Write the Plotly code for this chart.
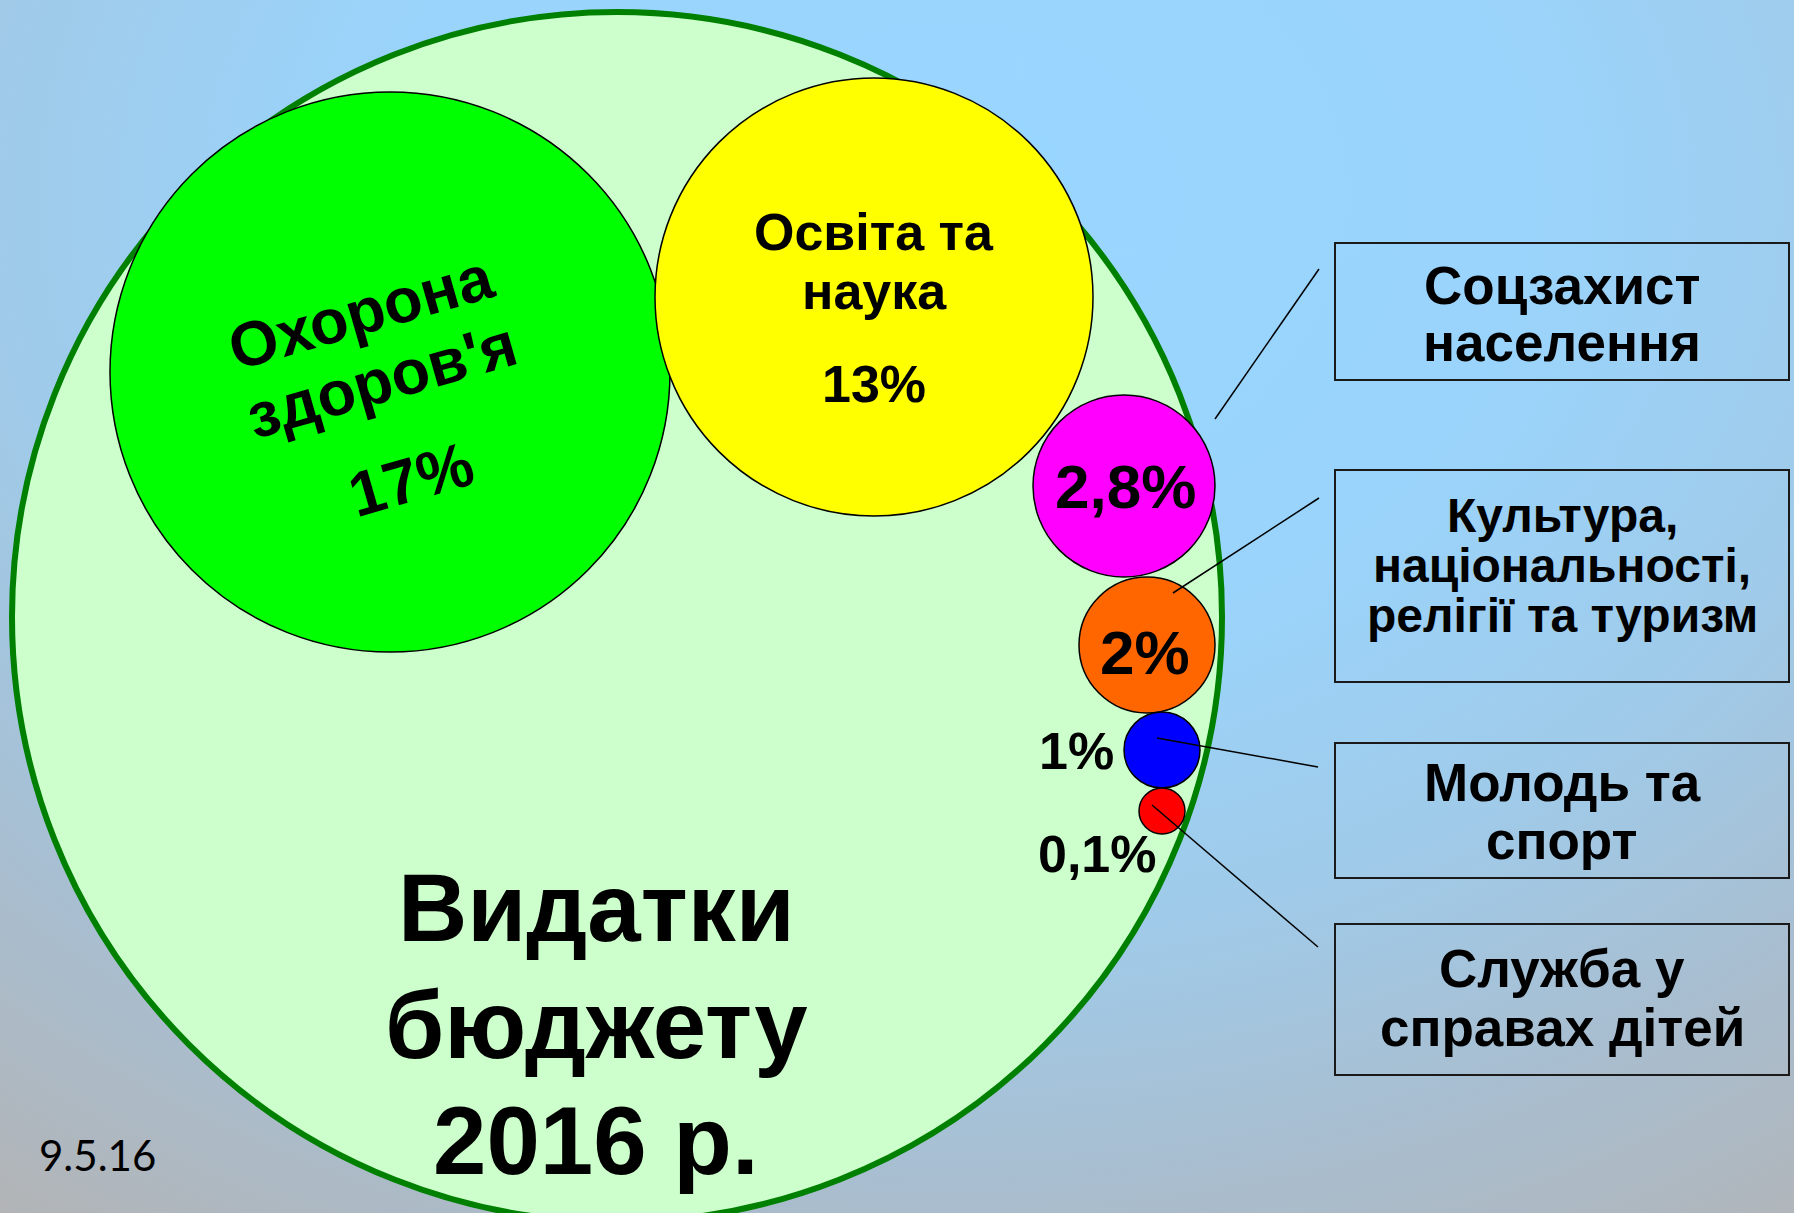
import base64
import plotly.graph_objects as go

# --- data -------------------------------------------------------------
categories = [
    "Охорона здоров'я",
    "Освіта та наука",
    "Соцзахист населення",
    "Культура, національності, релігії та туризм",
    "Молодь та спорт",
    "Служба у справах дітей",
]
shares = [17, 13, 2.8, 2, 1, 0.1]
share_labels = ["17%", "13%", "2,8%", "2%", "1%", "0,1%"]
bubble_colors = ["#00ff00", "#ffff00", "#ff00ff", "#ff6600", "#0000ff", "#ff0000"]
title_lines = ["Видатки", "бюджету", "2016 р."]
box_lines = [
    ["Соцзахист", "населення"],
    ["Культура,", "національності,", "релігії та туризм"],
    ["Молодь та", "спорт"],
    ["Служба у", "справах дітей"],
]
date_label = "9.5.16"

# --- layout (pixel space of the slide) --------------------------------
W, H = 1794, 1213
BOLD = "Liberation Sans, Arial, sans-serif"

outer = dict(cx=617, cy=617, r=605)
bubble_cx = [390, 874, 1124, 1147, 1162, 1162]
bubble_cy = [372, 297, 486, 645, 750, 811]
bubble_r = [280, 219, 91, 68, 38, 23]

boxes = [(1335, 243, 1789, 380), (1335, 470, 1789, 682),
         (1335, 743, 1789, 878), (1335, 924, 1789, 1075)]
box_text_y = [[285, 342], [515, 565, 615], [782, 840], [968, 1027]]
box_font = [53, 48, 53, 53]
# callout lines: (from circle) -> (box side)
callouts = [((1215, 419), (1319, 269)), ((1173, 593), (1319, 498)),
            ((1157, 738), (1318, 767)), ((1152, 805), (1318, 947))]

fig = go.Figure()

# background gradient as an svg image
svg = (
    f'<svg xmlns="http://www.w3.org/2000/svg" width="{W}" height="{H}" preserveAspectRatio="none">'
    '<defs><radialGradient id="g" gradientUnits="userSpaceOnUse" cx="0" cy="0" r="1" '
    'gradientTransform="translate(950,200) scale(1625,1250)">'
    '<stop offset="0" stop-color="#99d6ff"/><stop offset="0.35" stop-color="#9ad4fc"/>'
    '<stop offset="0.6" stop-color="#a0cae8"/><stop offset="0.8" stop-color="#a9bdce"/>'
    '<stop offset="1" stop-color="#b2b4b6"/></radialGradient></defs>'
    f'<rect width="{W}" height="{H}" fill="url(#g)"/></svg>'
)
fig.add_layout_image(
    source="data:image/svg+xml;base64," + base64.b64encode(svg.encode()).decode(),
    xref="paper", yref="paper", x=0, y=1, sizex=1, sizey=1,
    sizing="stretch", xanchor="left", yanchor="top", layer="below",
)

# invisible trace so the axes exist and hover works
fig.add_trace(go.Scatter(
    x=bubble_cx, y=bubble_cy, mode="markers",
    marker=dict(size=1, opacity=0),
    text=[f"{c}: {l}" for c, l in zip(categories, share_labels)],
    hoverinfo="text", showlegend=False,
))

# big circle
fig.add_shape(type="circle", xref="x", yref="y",
              x0=outer["cx"] - outer["r"], x1=outer["cx"] + outer["r"],
              y0=outer["cy"] - outer["r"], y1=outer["cy"] + outer["r"],
              fillcolor="#ccffcc", line=dict(color="#008000", width=6))

for cx, cy, r, col in zip(bubble_cx, bubble_cy, bubble_r, bubble_colors):
    fig.add_shape(type="circle", xref="x", yref="y",
                  x0=cx - r, x1=cx + r, y0=cy - r, y1=cy + r,
                  fillcolor=col, line=dict(color="black", width=1.5))

for (x0, y0), (x1, y1) in callouts:
    fig.add_shape(type="line", xref="x", yref="y", x0=x0, y0=y0, x1=x1, y1=y1,
                  line=dict(color="black", width=1.5))

for x0, y0, x1, y1 in boxes:
    fig.add_shape(type="rect", xref="x", yref="y", x0=x0, y0=y0, x1=x1, y1=y1,
                  fillcolor="rgba(0,0,0,0)", line=dict(color="#1a1a1a", width=2))


def add_text(x, y, text, size, angle=0, family=BOLD, weight="bold"):
    fig.add_annotation(x=x, y=y, xref="x", yref="y", text=text, showarrow=False,
                       xanchor="center", yanchor="middle", textangle=angle,
                       font=dict(family=family, size=size, color="black", weight=weight))


# green bubble (rotated)
add_text(361, 312, "Охорона", 63, -16)
add_text(381, 380, "здоров'я", 63, -16)
add_text(411, 479, share_labels[0], 63, -16)

# yellow bubble
add_text(874, 232, "Освіта та", 52)
add_text(874, 291, "наука", 52)
add_text(874, 384, share_labels[1], 52)

# small bubbles
add_text(1125, 486, share_labels[2], 62)
add_text(1145, 652, share_labels[3], 62)
add_text(1076, 751, share_labels[4], 52)
add_text(1097, 854, share_labels[5], 52)

# title
for text, y in zip(title_lines, [907, 1024, 1140]):
    add_text(596, y, text, 96)

# boxes
for (x0, y0, x1, y1), lines, ys, fs in zip(boxes, box_lines, box_text_y, box_font):
    for text, y in zip(lines, ys):
        add_text((x0 + x1) / 2, y, text, fs)

# date
add_text(97, 1155, date_label, 42, family="Lato, Carlito, sans-serif", weight="normal")

fig.update_xaxes(range=[0, W], visible=False, fixedrange=True)
fig.update_yaxes(range=[H, 0], visible=False, fixedrange=True)
fig.update_layout(
    width=W, height=H,
    margin=dict(l=0, r=0, t=0, b=0),
    paper_bgcolor="rgba(0,0,0,0)", plot_bgcolor="rgba(0,0,0,0)",
    showlegend=False,
)

fig.write_html("out.html", config=dict(displayModeBar=False),
               post_script="document.body.style.margin='0';")
